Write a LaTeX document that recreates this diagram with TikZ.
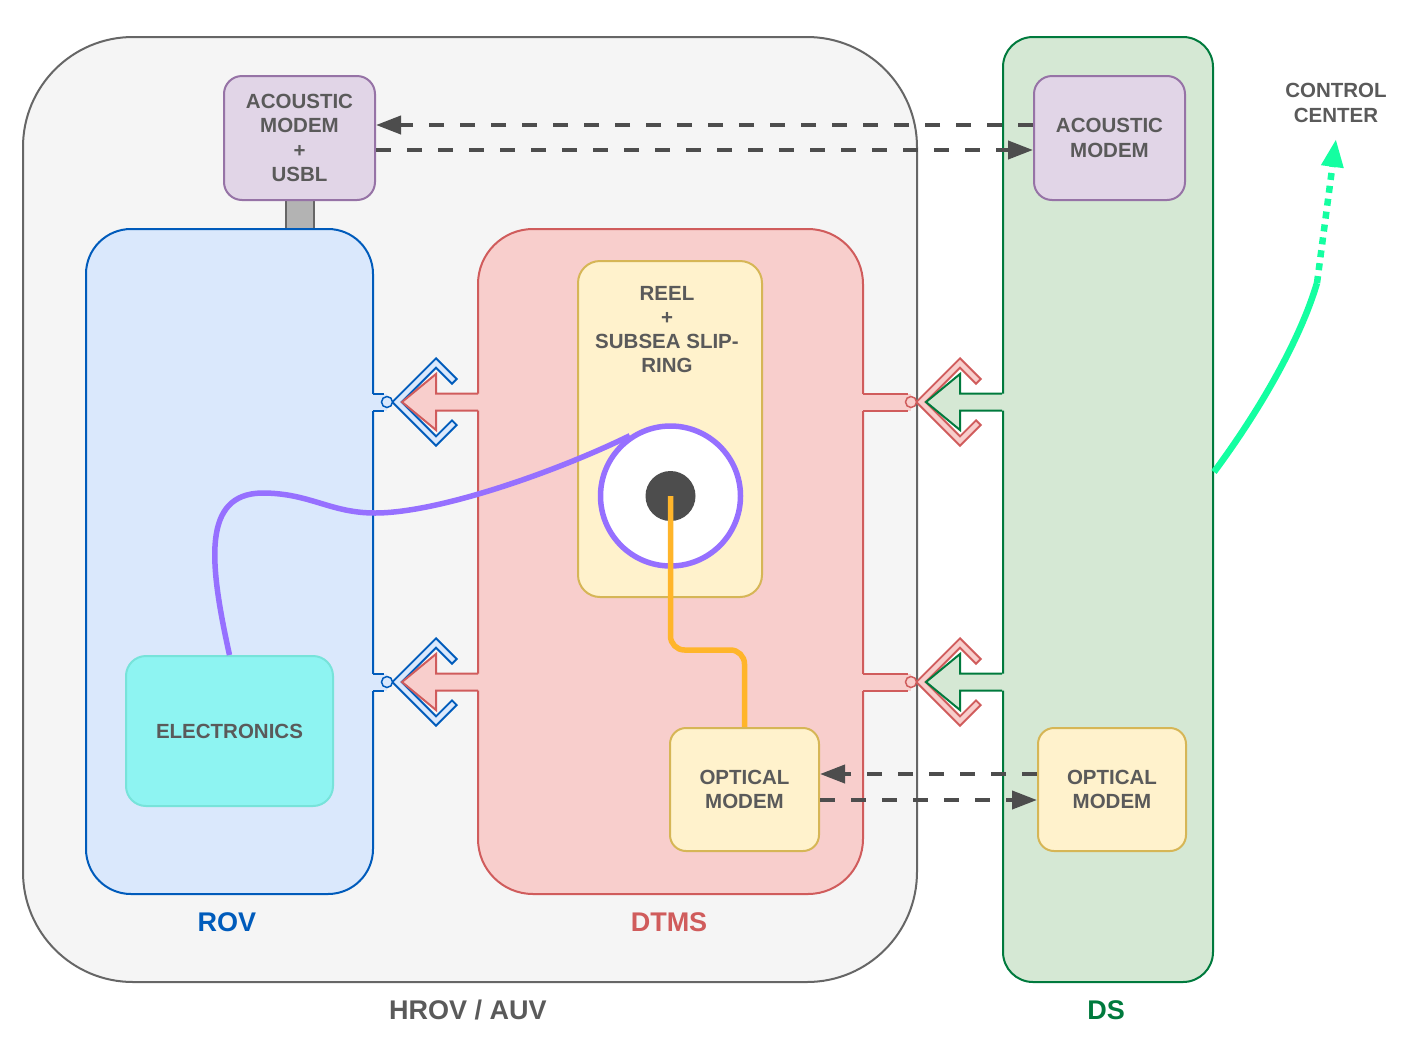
\documentclass[tikz,border=0pt]{standalone}
\usepackage{fontspec}
\setmainfont{Liberation Sans}
\usetikzlibrary{arrows.meta}

\definecolor{txtgray}{HTML}{5A5A5A}
\definecolor{hrovfill}{HTML}{F5F5F5}
\definecolor{hrovline}{HTML}{666666}
\definecolor{rovfill}{HTML}{DAE8FC}
\definecolor{rovline}{HTML}{005BBB}
\definecolor{dtmsfill}{HTML}{F8CECC}
\definecolor{dtmsline}{HTML}{D05C5C}
\definecolor{dsfill}{HTML}{D5E8D4}
\definecolor{dsline}{HTML}{007A3D}
\definecolor{amfill}{HTML}{E1D5E7}
\definecolor{amline}{HTML}{9673A6}
\definecolor{yfill}{HTML}{FFF2CC}
\definecolor{yline}{HTML}{D6B656}
\definecolor{elfill}{HTML}{8EF4F2}
\definecolor{elline}{HTML}{77E3DA}
\definecolor{mountgray}{HTML}{B3B3B3}
\definecolor{linkgray}{HTML}{4D4D4D}
\definecolor{cablepurple}{HTML}{9670FF}
\definecolor{cableorange}{HTML}{FFB52A}
\definecolor{ccgreen}{HTML}{14FFA1}

\begin{document}
\begin{tikzpicture}[
        x=1pt, y=-1pt,
        boxtext/.style={align=center, text=txtgray, font=\fontsize{20.5}{24.3}\selectfont\bfseries},
        box/.style={boxtext, draw, line width=2pt, rounded corners=#1, inner sep=0pt},
        box/.default=18pt,
        title/.style={font=\fontsize{27}{30}\selectfont\bfseries},
        link/.style={draw=linkgray, line width=4pt, dash pattern=on 15pt off 16pt,
            -{Triangle[length=25pt,width=18pt]}},
        cable/.style={line width=5.5pt}
        ]
    \useasboundingbox (0,0) rectangle (1417,1050);

    % vehicles
    \node [box=110pt, fill=hrovfill, draw=hrovline, minimum width=894pt, minimum height=945pt] (hrov) at (470,509.5) {};
    \node [draw=hrovline, fill=mountgray, line width=2pt, inner sep=0pt,
        minimum width=28pt, minimum height=29pt] (mount) at (300,214.5) {};
    \node [box=45pt, fill=rovfill, draw=rovline, minimum width=287pt, minimum height=665pt] (rov) at (229.5,561.5) {};
    \node [box=55pt, fill=dtmsfill, draw=dtmsline, minimum width=385pt, minimum height=665pt] (dtms) at (670.5,561.5) {};
    \node [box=30pt, fill=dsfill, draw=dsline, minimum width=210pt, minimum height=945pt] (ds) at (1108,509.5) {};

    % equipment
    \node [box, fill=amfill, draw=amline, minimum width=151pt, minimum height=124pt] (usbl) at (299.5,138)
        {ACOUSTIC\\MODEM\\+\\USBL};
    \node [box, fill=amfill, draw=amline, minimum width=151pt, minimum height=124pt] (dsam) at (1109.5,138)
        {ACOUSTIC\\MODEM};
    \node [box=22pt, fill=yfill, draw=yline, minimum width=184pt, minimum height=336pt] (reel) at (670,429) {};
    \node [boxtext] (reeltxt) at (667,329.5) {REEL\\+\\SUBSEA SLIP-\\RING};
    \node [box=16pt, fill=yfill, draw=yline, minimum width=149pt, minimum height=123pt] (optm) at (744.5,789.5)
        {OPTICAL\\MODEM};
    \node [box=16pt, fill=yfill, draw=yline, minimum width=148pt, minimum height=123pt] (dsom) at (1112,789.5)
        {OPTICAL\\MODEM};
    \node [box=20pt, fill=elfill, draw=elline, minimum width=207pt, minimum height=150pt] (elec) at (229.5,731)
        {ELECTRONICS};

    % labels
    \node [title, text=rovline] (rovlbl) at (227,922) {ROV};
    \node [title, text=dtmsline] (dtmslbl) at (669,922) {DTMS};
    \node [title, text=txtgray] (hrovlbl) at (468,1010) {HROV / AUV};
    \node [title, text=dsline] (dslbl) at (1106,1010) {DS};
    \node [boxtext] (ctrl) at (1336,103) {CONTROL\\CENTER};

    % docking interfaces
    \foreach \y in {402,682}
        \foreach \e/\d/\sl/\sf/\pl/\pf in {373/0/rovline/rovfill/dtmsline/dtmsfill,
                                          863/524/dtmsline/dtmsfill/dsline/dsfill} {
            \fill [\sf] (\e-2,\y-8.5) rectangle (387+\d,\y+8.5);
            \draw [\sl, line width=2pt] (\e,\y-8.5) -- (384+\d,\y-8.5) (\e,\y+8.5) -- (384+\d,\y+8.5);
            \draw [\sl, line width=8.5pt, line join=miter]
                (455+\d,\y-20) -- (436+\d,\y-39) -- (397+\d,\y) -- (436+\d,\y+39) -- (455+\d,\y+20);
            \draw [\sf, line width=4.5pt, line join=miter, shorten <=2pt, shorten >=2pt]
                (455+\d,\y-20) -- (436+\d,\y-39) -- (397+\d,\y) -- (436+\d,\y+39) -- (455+\d,\y+20);
            \filldraw [fill=\sf, draw=\sl, line width=1.5pt] (387+\d,\y) circle (5.5pt);
            \fill [\pf] (481+\d,\y-8.5) -- (436+\d,\y-8.5) -- (436+\d,\y-28) -- (402+\d,\y)
                -- (436+\d,\y+28) -- (436+\d,\y+8.5) -- (481+\d,\y+8.5) -- cycle;
            \draw [\pl, line width=2pt, line join=miter] (478+\d,\y-8.5) -- (436+\d,\y-8.5) -- (436+\d,\y-28)
                -- (402+\d,\y) -- (436+\d,\y+28) -- (436+\d,\y+8.5) -- (478+\d,\y+8.5);
        }

    % reel
    \node [circle, draw=cablepurple, line width=5.5pt, fill=white, minimum size=140pt, inner sep=0pt] (drum) at (670.5,496) {};
    \node [circle, fill=linkgray, minimum size=50pt, inner sep=0pt] (hub) at (drum.center) {};

    % cables
    \draw [cable, draw=cablepurple] (elec.north) .. controls (209,562) and (202,494) .. (262,493)
        .. controls (310,493) and (330,513) .. (375,513)
        .. controls (440,513) and (560,470) .. (drum.124);
    \draw [cable, draw=cableorange, rounded corners=14pt] (hub.center) -- ++(0,154) -| (optm.north);

    % acoustic and optical links
    \draw [link] ([yshift=13pt]dsam.west) -- ([yshift=13pt]usbl.east);
    \draw [link] ([yshift=-12pt]usbl.east) -- ([yshift=-12pt]dsam.west);
    \draw [link] ([yshift=15.5pt]dsom.west) -- ([yshift=15.5pt]optm.east);
    \draw [link] ([yshift=-10.5pt]optm.east) -- ([yshift=-10.5pt]dsom.west);

    % uplink
    \draw [draw=ccgreen, line width=6.5pt] ([yshift=37.5pt]ds.east) .. controls (1260,410) and (1300,340) .. (1317,283)
        coordinate (up);
    \draw [draw=ccgreen, line width=6.5pt, dash pattern=on 7pt off 6pt, -{Triangle[length=28pt,width=21pt]}]
        (up) -- ([yshift=-13pt]ctrl.south);
\end{tikzpicture}
\end{document}
